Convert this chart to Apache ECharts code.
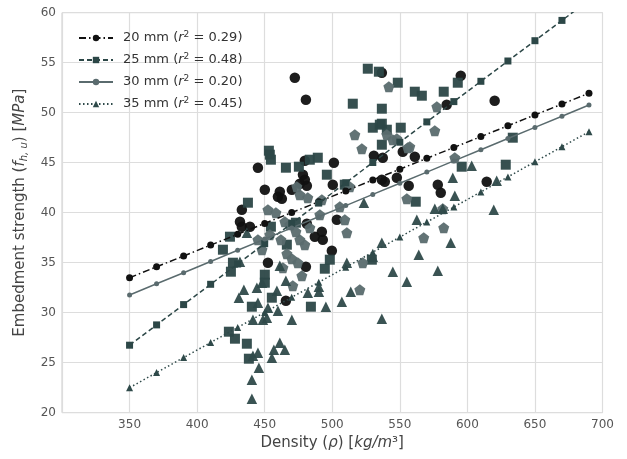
<!DOCTYPE html>
<html>
<head>
<meta charset="utf-8">
<script src="https://cdn.jsdelivr.net/npm/echarts@6/dist/echarts.min.js"></script>
<style>html,body{margin:0;padding:0;background:#fff}#c{width:627px;height:459px}</style>
</head>
<body>
<div id="c"></div>
<script>
// ---- data ----
const xTicks = [350, 400, 450, 500, 550, 600, 650, 700];
const yTicks = [20, 25, 30, 35, 40, 45, 50, 55, 60];
const seriesNames = ['20 mm', '25 mm', '30 mm', '35 mm'];
const r2Values = ['0.29', '0.48', '0.20', '0.45'];

const fitX = [350, 370, 390, 410, 430, 450, 470, 490, 510, 530, 550, 570, 590, 610, 630, 650, 670, 690];
const fit20 = [33.5, 34.59, 35.67, 36.76, 37.84, 38.93, 40.01, 41.1, 42.18, 43.27, 44.35, 45.44, 46.52, 47.61, 48.69, 49.78, 50.86, 51.95];
const fit25 = [26.75, 28.78, 30.81, 32.84, 34.87, 36.9, 38.93, 40.96, 42.99, 45.02, 47.05, 49.08, 51.11, 53.14, 55.17, 57.2, 59.23, 61.26];
const fit30 = [31.77, 32.89, 34.0, 35.12, 36.24, 37.36, 38.48, 39.59, 40.71, 41.83, 42.95, 44.06, 45.18, 46.3, 47.42, 48.53, 49.65, 50.77];
const fit35 = [22.5, 24.01, 25.51, 27.02, 28.52, 30.03, 31.54, 33.04, 34.55, 36.05, 37.56, 39.07, 40.57, 42.08, 43.58, 45.09, 46.6, 48.1];

const pts20 = [[472.3,53.5],[480.5,51.3],[536.7,54.0],[595.1,53.7],[620.2,51.2],[584.7,50.8],[445.0,44.5],[479.7,45.2],[501.2,45.0],[478.3,43.8],[479.7,43.3],[476.0,42.9],[481.2,42.7],[450.1,42.3],[461.2,42.1],[459.8,41.6],[462.7,41.4],[470.1,42.3],[500.4,42.8],[530.8,45.7],[537.4,45.5],[536.7,43.3],[538.9,43.1],[552.2,46.1],[561.1,45.6],[547.8,43.5],[556.6,42.7],[578.1,42.8],[580.3,42.0],[614.3,43.1],[431.7,39.1],[433.1,38.6],[439.1,38.6],[433.1,40.3],[452.4,35.0],[480.5,34.6],[499.7,36.2],[465.7,31.2],[487.1,37.6],[493.0,37.3],[481.2,38.9],[492.3,38.1],[503.4,39.3]];
const pts25 = [[548.5,53.0],[561.1,52.1],[566.3,51.7],[582.5,52.1],[592.9,53.0],[536.7,50.4],[536.7,48.9],[540.4,48.3],[550.7,48.5],[536.7,46.8],[595.8,44.6],[633.6,47.5],[628.4,44.8],[561.8,41.1],[515.2,50.9],[530.0,48.5],[535.2,48.8],[526.3,54.4],[534.5,54.1],[453.1,46.2],[453.8,45.8],[454.6,45.3],[465.7,44.5],[475.3,44.6],[483.4,45.3],[489.3,45.5],[496.0,43.8],[437.6,41.0],[426.5,35.0],[425.0,34.1],[450.1,33.8],[450.1,33.0],[498.2,35.3],[494.5,34.4],[455.3,31.5],[440.5,30.6],[484.2,30.6],[423.5,28.1],[428.0,27.4],[436.8,26.9],[438.3,25.4],[529.3,35.3],[419.1,36.3],[424.3,37.6],[454.6,38.6],[509.3,42.8],[473.1,39.0],[466.4,36.8]];
const pts30 = [[541.9,52.6],[577.4,50.6],[575.9,48.2],[540.4,47.8],[544.8,47.3],[547.8,47.4],[555.9,46.5],[557.4,46.6],[590.7,45.5],[555.2,41.4],[581.8,40.4],[582.5,38.5],[567.7,37.5],[516.7,47.8],[521.9,46.4],[513.0,42.6],[473.8,42.6],[466.4,35.9],[470.1,35.4],[474.5,35.0],[477.5,33.7],[470.8,32.7],[522.6,35.0],[520.4,32.3],[452.4,40.3],[458.3,40.0],[464.9,39.1],[468.6,38.8],[473.1,38.1],[476.0,37.3],[479.7,36.8],[483.4,38.5],[490.8,39.8],[505.6,40.6],[509.3,39.3],[510.8,38.0],[463.5,34.5],[476.0,41.8],[481.9,41.5],[492.3,41.3],[445.0,37.3],[448.0,36.3],[453.8,37.8],[462.0,37.3]];
const pts35 = [[603.2,44.7],[589.2,43.5],[590.7,41.7],[621.7,43.2],[575.9,40.4],[581.8,40.4],[619.5,40.3],[562.6,39.3],[587.7,37.0],[536.7,37.0],[523.4,41.0],[461.2,34.7],[465.7,33.2],[459.0,32.2],[452.4,30.5],[459.8,30.2],[451.6,29.5],[448.7,29.3],[445.0,31.0],[441.3,29.3],[470.1,29.3],[481.9,32.0],[490.1,32.6],[490.1,32.1],[495.3,30.6],[507.1,31.1],[513.7,32.1],[510.8,35.0],[530.0,35.6],[544.8,34.1],[555.2,33.1],[564.0,35.8],[578.1,34.2],[536.7,29.4],[448.0,33.0],[444.2,32.5],[461.2,27.0],[456.8,26.3],[464.9,26.3],[455.3,25.5],[445.0,26.0],[441.3,25.7],[445.7,24.5],[440.5,23.3],[440.5,21.4],[431.7,35.1],[434.6,32.3],[430.9,31.5],[436.8,38.0]];

// ---- styles ----
const C20 = '#111111', C25 = '#2c4747', C30 = '#5a6b6e', C35 = '#2f4a4a';
const PENT = 'path://M50 0 L97.6 34.5 L79.4 90.5 L20.6 90.5 L2.4 34.5 Z';
const FONT = 'DejaVu Sans';

const chart = echarts.init(document.getElementById('c'), null, {renderer: 'canvas'});

function pairs(ys) { return fitX.map((x, i) => [x, ys[i]]); }

const fits = [fit20, fit25, fit30, fit35];
const lineStyles = [
  {color: C20, type: [7, 3, 1.5, 3], sym: 'circle', size: 7},
  {color: C25, type: [5, 3], sym: 'rect', size: 7},
  {color: C30, type: 'solid', sym: 'circle', size: 5},
  {color: C35, type: [1.5, 2.5], sym: 'triangle', size: 7}
];
const scatterDefs = [
  {data: pts20, color: C20, sym: 'circle', size: 10.5},
  {data: pts25, color: C25, sym: 'rect', size: 10},
  {data: pts30, color: C30, sym: PENT, size: 11},
  {data: pts35, color: C35, sym: 'triangle', size: 10.5}
];

const series = [];
scatterDefs.forEach((d, i) => {
  series.push({
    type: 'scatter', name: 'pts' + i, data: d.data, symbol: d.sym, symbolSize: d.size,
    itemStyle: {color: d.color, opacity: 0.95}, z: 2
  });
});
fits.forEach((f, i) => {
  const s = lineStyles[i];
  series.push({
    type: 'line', name: seriesNames[i], data: pairs(f), symbol: s.sym, symbolSize: s.size,
    showSymbol: true, clip: true,
    lineStyle: {color: s.color, width: 1.5, type: s.type},
    itemStyle: {color: s.color}, z: 5
  });
});

chart.setOption({
  animation: false,
  backgroundColor: '#ffffff',
  grid: {left: 62, right: 24.5, top: 12.7, bottom: 46.3, show: true, borderColor: '#cccccc', borderWidth: 1},
  legend: {
    data: seriesNames,
    orient: 'vertical', left: 73, top: 25,
    itemWidth: 34, itemHeight: 8, itemGap: 7.5,
    formatter: function (name) {
      const i = seriesNames.indexOf(name);
      return '{t|' + name + ' (}{i|r}{s|2}{t| = ' + r2Values[i] + ')}';
    },
    textStyle: {
      fontFamily: FONT, fontSize: 13, color: '#333',
      rich: {
        t: {fontFamily: FONT, fontSize: 13, color: '#333', lineHeight: 16},
        i: {fontFamily: FONT, fontSize: 13, color: '#333', fontStyle: 'italic', lineHeight: 16},
        s: {fontFamily: FONT, fontSize: 9, color: '#333', verticalAlign: 'top', lineHeight: 10}
      },
      padding: [0, 0, 0, 5]
    }
  },
  xAxis: {
    type: 'value', min: 300, max: 700, interval: 50,
    axisLine: {show: false}, axisTick: {show: false},
    splitLine: {show: true, lineStyle: {color: '#dddddd', width: 1.2}},
    axisLabel: {
      fontFamily: FONT, fontSize: 12, color: '#555', margin: 6,
      formatter: v => (xTicks.indexOf(v) >= 0 ? String(v) : '')
    },
    name: '{n|Density (}{i|ρ}{n|) [}{i|kg/m}{n|³]}',
    nameLocation: 'middle', nameGap: 17,
    nameTextStyle: {
      rich: {
        n: {fontFamily: FONT, fontSize: 15, color: '#444'},
        i: {fontFamily: FONT, fontSize: 15, color: '#444', fontStyle: 'italic'}
      }
    }
  },
  yAxis: {
    type: 'value', min: 20, max: 60, interval: 5,
    axisLine: {show: false}, axisTick: {show: false},
    splitLine: {show: true, lineStyle: {color: '#dddddd', width: 1.2}},
    axisLabel: {
      fontFamily: FONT, fontSize: 12, color: '#555', margin: 6,
      formatter: v => (yTicks.indexOf(v) >= 0 ? String(v) : '')
    },
    name: '{n|Embedment strength (}{i|f}{sub|h, u}{n|) [}{i|MPa}{n|]}',
    nameLocation: 'middle', nameGap: 32, nameRotate: 90,
    nameTextStyle: {
      rich: {
        n: {fontFamily: FONT, fontSize: 15, color: '#444', lineHeight: 20},
        i: {fontFamily: FONT, fontSize: 15, color: '#444', fontStyle: 'italic', lineHeight: 20},
        sub: {fontFamily: FONT, fontSize: 10, color: '#444', fontStyle: 'italic', verticalAlign: 'bottom', lineHeight: 12}
      }
    }
  },
  series: series
});
</script>
</body>
</html>
